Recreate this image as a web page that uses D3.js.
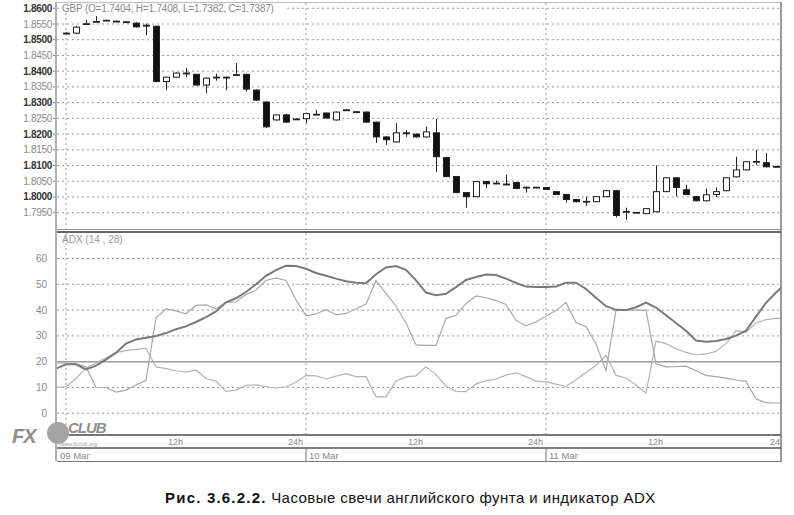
<!DOCTYPE html>
<html><head><meta charset="utf-8">
<script src="https://cdn.jsdelivr.net/npm/d3@7"></script>
<style>
html,body{margin:0;padding:0;background:#fff;}
svg{display:block;font-family:"Liberation Sans",Arial,sans-serif;}
</style></head>
<body><svg id="c" width="794" height="515"></svg>
<script>
// ---------- DATA ----------
const legendText = "GBP (O=1.7404, H=1.7408, L=1.7382, C=1.7387)";
const adxLabel = "ADX (14 , 28)";
const caption1 = "Рис. 3.6.2.2.";
const caption2 = " Часовые свечи английского фунта и индикатор ADX";
const priceTicks = [1.8600,1.8550,1.8500,1.8450,1.8400,1.8350,1.8300,1.8250,1.8200,1.8150,1.8100,1.8050,1.8000,1.7950];
const adxTicks = [0,10,20,30,40,50,60];
const timeTickLabels = ["12h","24h","12h","24h","12h","24"];
const dayLabels = ["09 Mar","10 Mar","11 Mar"];
// hourly candles, starting 09 Mar 00:00
const opens  = [1.8521,1.8521,1.8550,1.8557,1.8561,1.8559,1.8557,1.8553,1.8546,1.8543,1.8367,1.8381,1.8394,1.8390,1.8356,1.8380,1.8381,1.8388,1.8390,1.8340,1.8302,1.8245,1.8261,1.8248,
                1.8249,1.8262,1.8267,1.8245,1.8277,1.8271,1.8270,1.8238,1.8191,1.8175,1.8204,1.8200,1.8191,1.8204,1.8125,1.8065,1.8014,1.8001,1.8049,1.8043,1.8040,1.8046,1.8030,1.8030,
                1.8030,1.8017,1.8008,1.7992,1.7985,1.7985,1.8001,1.8020,1.7953,1.7950,1.7947,1.7953,1.8017,1.8061,1.8023,1.8001,1.7988,1.8008,1.8020,1.8064,1.8086,1.8112,1.8109,1.8096];
const highs  = [1.8524,1.8543,1.8563,1.8575,1.8563,1.8561,1.8559,1.8556,1.8552,1.8545,1.8382,1.8396,1.8410,1.8392,1.8380,1.8392,1.8383,1.8426,1.8392,1.8342,1.8304,1.8262,1.8265,1.8250,
                1.8268,1.8277,1.8269,1.8271,1.8279,1.8273,1.8272,1.8240,1.8193,1.8235,1.8213,1.8202,1.8223,1.8248,1.8127,1.8067,1.8016,1.8050,1.8051,1.8052,1.8071,1.8048,1.8033,1.8032,
                1.8032,1.8019,1.8010,1.7994,1.8001,1.8003,1.8022,1.8023,1.7966,1.7952,1.7965,1.8100,1.8063,1.8063,1.8039,1.8003,1.8027,1.8030,1.8063,1.8128,1.8114,1.8150,1.8140,1.8098];
const lows   = [1.8518,1.8518,1.8549,1.8555,1.8559,1.8556,1.8555,1.8538,1.8514,1.8365,1.8340,1.8379,1.8381,1.8354,1.8330,1.8370,1.8340,1.8386,1.8335,1.8306,1.8219,1.8243,1.8236,1.8245,
                1.8235,1.8260,1.8250,1.8243,1.8275,1.8268,1.8236,1.8172,1.8166,1.8173,1.8191,1.8189,1.8189,1.8080,1.8063,1.8012,1.7966,1.7999,1.8028,1.8041,1.8037,1.8025,1.8014,1.8028,
                1.8022,1.8006,1.7982,1.7983,1.7972,1.7983,1.7999,1.7935,1.7928,1.7948,1.7945,1.7951,1.8015,1.8001,1.8006,1.7986,1.7986,1.8000,1.8018,1.8062,1.8084,1.8102,1.8094,1.8094];
const closes = [1.8521,1.8540,1.8551,1.8558,1.8562,1.8557,1.8556,1.8541,1.8545,1.8367,1.8381,1.8394,1.8393,1.8356,1.8378,1.8381,1.8380,1.8389,1.8343,1.8308,1.8223,1.8261,1.8238,1.8247,
                1.8265,1.8263,1.8251,1.8270,1.8276,1.8270,1.8238,1.8191,1.8182,1.8204,1.8203,1.8191,1.8207,1.8128,1.8065,1.8014,1.8001,1.8049,1.8042,1.8044,1.8041,1.8027,1.8031,1.8031,
                1.8024,1.8008,1.7992,1.7985,1.7986,1.8001,1.8020,1.7941,1.7954,1.7951,1.7963,1.8017,1.8061,1.8030,1.8008,1.7988,1.8007,1.8017,1.8061,1.8086,1.8112,1.8113,1.8096,1.8097];
// indicator values, hourly from 08 Mar 23:00 (hour -1) to 12 Mar 00:00 (hour 72)
const adxValues = [17.3,19,19,17,18.5,20.8,23.5,27,28.6,29.3,30,31.1,32.6,33.7,35.4,37.3,39.5,43,44.6,47,50,53.3,55.5,57.2,57.1,
                   56,54.4,53.3,52.2,51.2,50.6,50.4,53.9,56.5,57.1,55.6,51.5,46.8,45.8,46.3,48.9,51.7,52.8,53.8,53.6,52.2,50.5,49.1,49,
                   49,49.1,50.6,50.6,48.2,44.8,41.5,40.1,40,41.1,42.9,41,38,35,32,28.2,27.7,28,28.8,30.1,32,37.5,42.8,46.8,50.5];
const minusDI   = [19.5,19.5,19.2,18,10,10,8.2,9,11,12.8,37,40.5,39.7,38.6,41.8,42,40.5,43,43.2,46,47.8,51.5,52.5,51.5,44,
                   37.8,38.5,40.2,38.2,38.7,40.5,42.3,51.5,46.5,41.5,35,26.5,26.3,26.3,36.8,38,42.5,45.5,44.8,43.8,42.2,36,33.9,35.5,
                   37.6,39.8,43,35.2,33.6,27,16.5,40,40,40,40,19.2,18,18.1,18.3,16.5,14.7,14.2,13.6,12.9,12.4,5.5,4.1,4,4];
const plusDI    = [10,10.3,13.5,17.5,19.5,21.5,23.5,24.3,24.8,25.2,18,17.3,16.5,16,16.8,13.5,12.5,8.5,9,10.8,11,10.3,9.8,10.3,12,
                   14.7,14.5,13.3,14.4,15.4,14.2,14.2,6.4,6.4,12.5,14.1,14.5,18,15,10.6,8.5,8.4,11.4,12.6,13.3,14.8,15.7,14.2,12.5,
                   12.2,11.3,10.4,13,15.8,18.6,22.5,14.7,13.7,11,7.8,28,27,25,23.6,22.7,23,24,27,32,31.5,35,36.3,36.8,37];

// ---------- SETUP ----------
const svg = d3.select("#c");
const H = 3600e3;
const t0 = Date.UTC(2004,2,9,0,0);
const L = 57, R = 781;
const x = d3.scaleUtc().domain([new Date(t0 - 0.9*H), new Date(t0 + 71.5*H)]).range([L, R]);
const pTop = 3, pBot = 230, aTop = 233, aBot = 435;
const yP = d3.scaleLinear().domain([1.7950, 1.8600]).range([212.7, 8.3]);
const yA = d3.scaleLinear().domain([0, 60]).range([413.3, 258.5]);

const defs = svg.append("defs");
defs.append("clipPath").attr("id","cp").append("rect").attr("x",L).attr("y",pTop).attr("width",R-L).attr("height",pBot-pTop);
defs.append("clipPath").attr("id","ca").append("rect").attr("x",L).attr("y",aTop).attr("width",R-L).attr("height",aBot-aTop);
defs.append("clipPath").attr("id","ct").append("rect").attr("x",L).attr("y",435).attr("width",R-L).attr("height",30);

const gridCol = "#9a9a9a";
// price grid
svg.append("g").selectAll("line").data(priceTicks).join("line")
  .attr("x1",L).attr("x2",R).attr("y1",d=>yP(d)).attr("y2",d=>yP(d))
  .attr("stroke",gridCol).attr("stroke-width",1).attr("stroke-dasharray","2,3");
// adx grid
svg.append("g").selectAll("line").data(adxTicks.filter(d=>d!==20)).join("line")
  .attr("x1",L).attr("x2",R).attr("y1",d=>yA(d)).attr("y2",d=>yA(d))
  .attr("stroke",gridCol).attr("stroke-width",1).attr("stroke-dasharray","2,3");
svg.append("line").attr("x1",L).attr("x2",R).attr("y1",yA(20)).attr("y2",yA(20))
  .attr("stroke","#9c9c9c").attr("stroke-width",1.6);

// vertical day grid
const dayTimes = [0,24,48].map(h=>new Date(t0+h*H));
svg.append("g").selectAll("line").data(dayTimes).join("line")
  .attr("x1",d=>x(d)).attr("x2",d=>x(d)).attr("y1",pTop).attr("y2",aBot)
  .attr("stroke",gridCol).attr("stroke-dasharray","2,3");

// y labels price
svg.append("g").selectAll("text").data(priceTicks).join("text")
  .attr("x",52).attr("y",d=>yP(d)+3.5).attr("text-anchor","end")
  .attr("font-size",10).attr("font-weight",(d,i)=>i%2===0?"bold":"normal")
  .attr("fill",(d,i)=>i%2===0?"#333":"#8a8a8a").attr("letter-spacing",-0.3)
  .text(d=>d.toFixed(4));
svg.append("g").selectAll("line").data(priceTicks).join("line")
  .attr("x1",53).attr("x2",57).attr("y1",d=>yP(d)).attr("y2",d=>yP(d)).attr("stroke","#888");
// y labels adx
svg.append("g").selectAll("text").data(adxTicks).join("text")
  .attr("x",47).attr("y",d=>yA(d)+3.5).attr("text-anchor","end")
  .attr("font-size",10).attr("fill","#8a8a8a").text(d=>d);

// ---------- CANDLES ----------
const candles = opens.map((o,i)=>({t:new Date(t0+i*H),o,h:highs[i],l:lows[i],c:closes[i]}));
const cg = svg.append("g").attr("clip-path","url(#cp)");
const bw = 6;
cg.selectAll("line.w").data(candles).join("line").attr("class","w")
  .attr("x1",d=>Math.round(x(d.t))+0.5).attr("x2",d=>Math.round(x(d.t))+0.5)
  .attr("y1",d=>yP(d.h)).attr("y2",d=>yP(d.l)).attr("stroke","#222").attr("stroke-width",1);
cg.selectAll("rect").data(candles).join("rect")
  .attr("x",d=>Math.round(x(d.t))-bw/2+0.5).attr("width",bw)
  .attr("y",d=>yP(Math.max(d.o,d.c))).attr("height",d=>Math.max(0.8,Math.abs(yP(d.o)-yP(d.c))))
  .attr("fill",d=>d.c<d.o?"#111":"#fff").attr("stroke","#222").attr("stroke-width",1);

// ---------- ADX LINES ----------
const idxT = adxValues.map((v,i)=>new Date(t0+(i-1)*H));
const ag = svg.append("g").attr("clip-path","url(#ca)");
const ln = d3.line().x((d,i)=>x(idxT[i])).y(d=>yA(d));
ag.append("path").attr("d",ln(plusDI)).attr("fill","none").attr("stroke","#b4b4b4").attr("stroke-width",1.2);
ag.append("path").attr("d",ln(minusDI)).attr("fill","none").attr("stroke","#a8a8a8").attr("stroke-width",1.2);
ag.append("path").attr("d",ln(adxValues)).attr("fill","none").attr("stroke","#7a7a7a").attr("stroke-width",2);

// ---------- FRAME ----------
const frame = svg.append("g");
frame.append("line").attr("x1",L).attr("x2",R).attr("y1",2.5).attr("y2",2.5).attr("stroke","#bbb");
frame.append("line").attr("x1",L-1).attr("x2",L-1).attr("y1",2).attr("y2",461).attr("stroke","#b0b0b0").attr("stroke-width",2);
frame.append("line").attr("x1",R).attr("x2",R).attr("y1",2).attr("y2",462).attr("stroke","#777").attr("stroke-width",1.5);
frame.append("line").attr("x1",L).attr("x2",R).attr("y1",229.5).attr("y2",229.5).attr("stroke","#999");
frame.append("line").attr("x1",L).attr("x2",R).attr("y1",232).attr("y2",232).attr("stroke","#666").attr("stroke-width",2);
frame.append("line").attr("x1",L).attr("x2",R).attr("y1",435).attr("y2",435).attr("stroke","#777").attr("stroke-width",2);
frame.append("line").attr("x1",L).attr("x2",R).attr("y1",448).attr("y2",448).attr("stroke","#555").attr("stroke-width",1.5);
frame.append("line").attr("x1",L).attr("x2",R).attr("y1",461.5).attr("y2",461.5).attr("stroke","#777").attr("stroke-width",1);
frame.selectAll("line.ds").data(dayTimes.slice(1)).join("line").attr("class","ds")
  .attr("x1",d=>x(d)).attr("x2",d=>x(d)).attr("y1",448).attr("y2",461.5).attr("stroke","#777");

// time labels
const tTicks = d3.range(1,7).map(k=>new Date(t0+k*12*H));
svg.append("g").attr("clip-path","url(#ct)").selectAll("text").data(tTicks).join("text")
  .attr("x",(d,i)=>Math.min(x(d)-3, R-1)).attr("y",445).attr("text-anchor","end")
  .attr("font-size",9).attr("fill","#888").text((d,i)=>timeTickLabels[i]);
svg.append("g").selectAll("text").data(dayTimes).join("text")
  .attr("x",(d,i)=>i===0?L+3:x(d)+3).attr("y",458.5)
  .attr("font-size",9.5).attr("fill","#888").text((d,i)=>dayLabels[i]);

// legends
svg.append("rect").attr("x",60).attr("y",3).attr("width",226).attr("height",10).attr("fill","#fff");
svg.append("text").attr("x",62).attr("y",12).attr("font-size",10).attr("fill","#8a8a8a").attr("letter-spacing",-0.2).text(legendText);
svg.append("text").attr("x",62).attr("y",243).attr("font-size",10).attr("fill","#999").text(adxLabel);

// watermark
const wm = svg.append("g").attr("fill","#999");
wm.append("circle").attr("cx",58).attr("cy",433).attr("r",11).attr("fill","#a5a5a5");
wm.append("text").attr("x",12).attr("y",443).attr("font-size",20).attr("font-style","italic").attr("font-weight","bold").attr("letter-spacing",-1).attr("fill","#8f8f8f").text("FX");
wm.append("text").attr("x",68).attr("y",433).attr("font-size",15).attr("font-style","italic").attr("font-weight","bold").attr("letter-spacing",-1).attr("fill","#8f8f8f").text("CLUB");
wm.append("text").attr("x",60).attr("y",445.5).attr("font-size",5.5).attr("fill","#999").text("www.fxclub.org");

// caption
const cap = svg.append("text").attr("x",165).attr("y",503).attr("font-size",15).attr("fill","#111");
cap.append("tspan").attr("font-weight","bold").attr("letter-spacing",1.2).text(caption1);
cap.append("tspan").attr("letter-spacing",0.45).text(caption2);
</script></body></html>
